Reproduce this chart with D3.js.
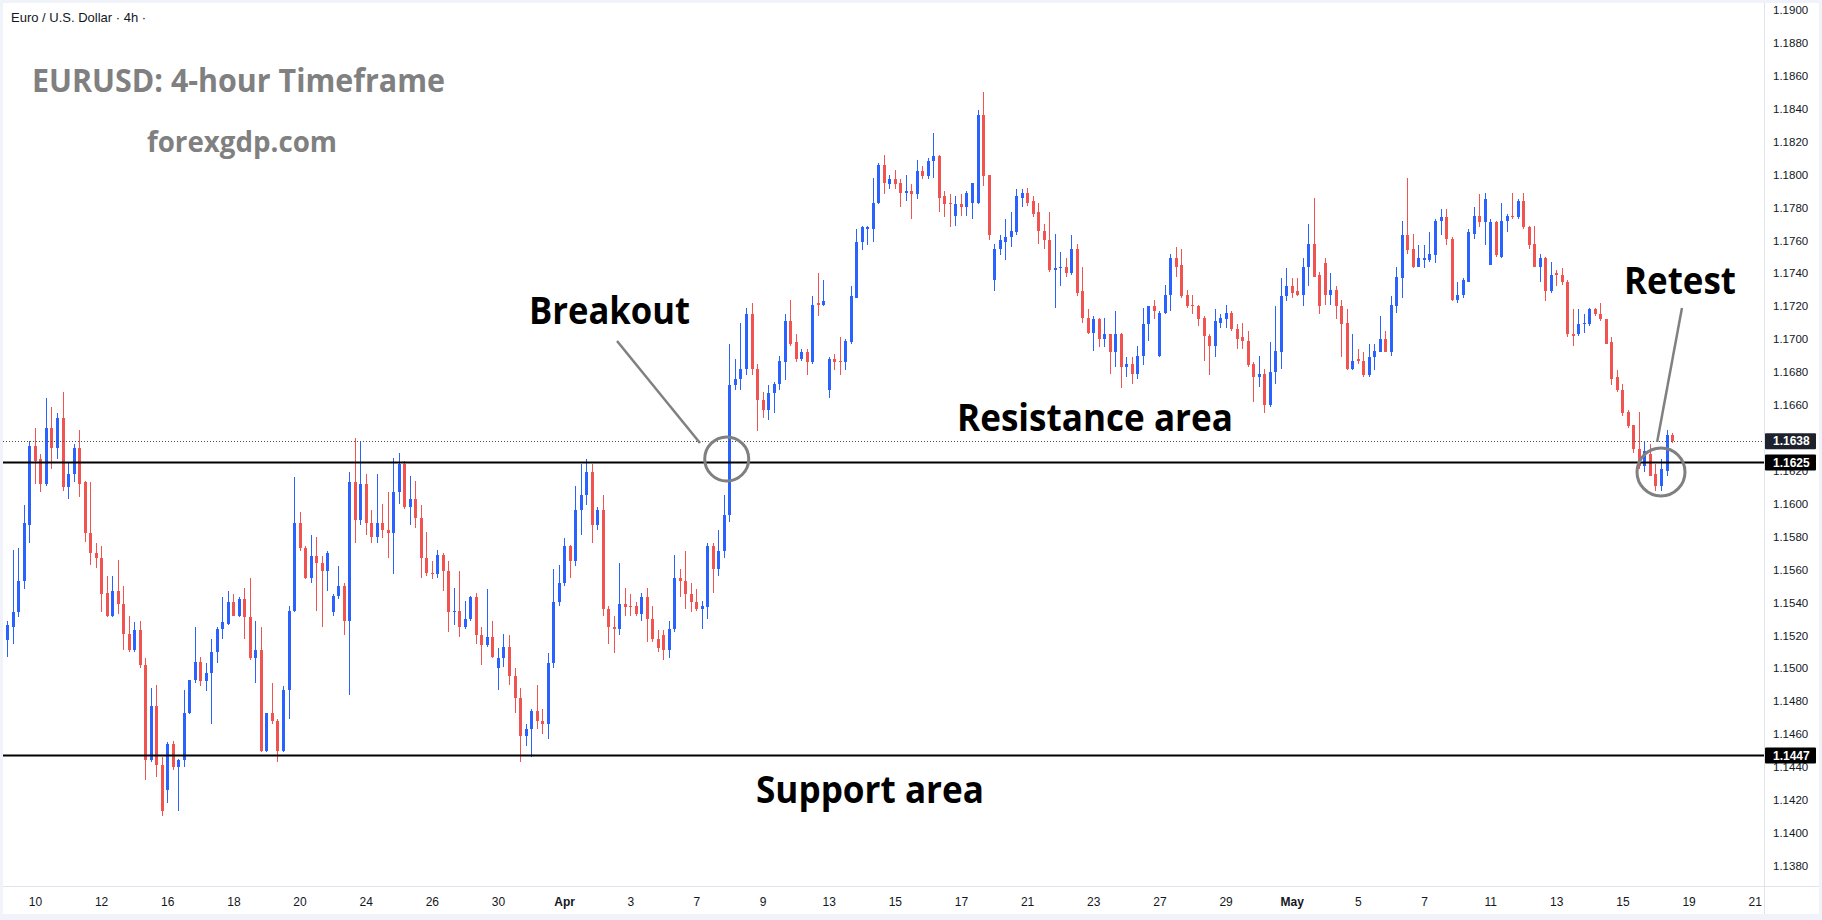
<!DOCTYPE html>
<html>
<head>
<meta charset="utf-8">
<script src="https://cdn.jsdelivr.net/npm/d3@7"></script>
<style>
  html, body { margin: 0; padding: 0; background: #f0f3fa; }
  svg { display: block; }
</style>
</head>
<body>
<div id="chart"></div>
<script>
// EURUSD 4h candles (index 0 = first visible bar)
const opens = [
1.1517,1.1525,1.1534,1.1553,1.1587,1.1635,1.1627,1.1612,1.1646,1.1634,1.1652,1.1610,1.1618,1.1634,1.1613,1.1582,1.1570,1.1567,1.1546,1.1532,
1.1547,1.1539,1.1521,1.1511,1.1523,1.1502,1.1444,1.1477,1.1441,1.1426,1.1454,1.1440,1.1444,1.1473,1.1493,1.1504,1.1492,1.1497,1.1510,1.1524,
1.1527,1.1540,1.1532,1.1542,1.1531,1.1506,1.1511,1.1450,1.1473,1.1468,1.1450,1.1487,1.1535,1.1588,1.1573,1.1555,1.1568,1.1564,1.1559,1.1534,
1.1544,1.1550,1.1529,1.1613,1.1590,1.1612,1.1588,1.1580,1.1588,1.1584,1.1582,1.1607,1.1624,1.1598,1.1603,1.1591,1.1567,1.1558,1.1557,1.1569,
1.1559,1.1534,1.1535,1.1525,1.1530,1.1543,1.1520,1.1514,1.1519,1.1500,1.1506,1.1513,1.1495,1.1482,1.1459,1.1463,1.1474,1.1468,1.1466,1.1503,
1.1540,1.1552,1.1574,1.1565,1.1596,1.1605,1.1619,1.1587,1.1596,1.1536,1.1525,1.1524,1.1539,1.1538,1.1538,1.1533,1.1543,1.1530,1.1518,1.1520,
1.1511,1.1524,1.1555,1.1553,1.1545,1.1540,1.1536,1.1537,1.1574,1.1560,1.1571,1.1593,1.1672,1.1676,1.1682,1.1715,1.1682,1.1663,1.1657,1.1667,
1.1673,1.1686,1.1711,1.1698,1.1688,1.1692,1.1686,1.1722,1.1721,1.1669,1.1688,1.1687,1.1686,1.1698,1.1725,1.1759,1.1767,1.1767,1.1783,1.1806,
1.1794,1.1797,1.1795,1.1789,1.1790,1.1788,1.1802,1.1799,1.1808,1.1811,1.1787,1.1783,1.1775,1.1782,1.1780,1.1783,1.1783,1.1836,1.1800,1.1736,
1.1755,1.1759,1.1762,1.1765,1.1786,1.1789,1.1784,1.1777,1.1766,1.1760,1.1742,1.1743,1.1744,1.1740,1.1755,1.1729,1.1713,1.1704,1.1712,1.1700,
1.1703,1.1692,1.1703,1.1683,1.1685,1.1679,1.1690,1.1709,1.1720,1.1690,1.1716,1.1727,1.1749,1.1745,1.1727,1.1721,1.1720,1.1713,1.1702,1.1696,
1.1710,1.1712,1.1716,1.1706,1.1701,1.1699,1.1685,1.1677,1.1679,1.1660,1.1680,1.1692,1.1726,1.1732,1.1729,1.1727,1.1744,1.1758,1.1739,1.1746,
1.1727,1.1730,1.1720,1.1710,1.1682,1.1688,1.1687,1.1678,1.1689,1.1692,1.1700,1.1692,1.1720,1.1737,1.1763,1.1755,1.1744,1.1748,1.1748,1.1751,
1.1772,1.1774,1.1761,1.1724,1.1727,1.1735,1.1764,1.1775,1.1771,1.1745,1.1771,1.1750,1.1772,1.1775,1.1774,1.1784,1.1768,1.1758,1.1744,1.1749,
1.1729,1.1740,1.1739,1.1735,1.1703,1.1703,1.1709,1.1709,1.1718,1.1715,1.1712,1.1698,1.1677,1.1669,1.1656,1.1648,1.1633,1.1623,1.1630,1.1618,
1.1611,1.1620,1.1642
];
const highs = [
1.1529,1.1572,1.1573,1.1599,1.1638,1.1646,1.1630,1.1664,1.1659,1.1655,1.1668,1.1625,1.1636,1.1645,1.1614,1.1613,1.1576,1.1574,1.1556,1.1556,
1.1566,1.1550,1.1532,1.1528,1.1529,1.1506,1.1488,1.1490,1.1446,1.1455,1.1456,1.1445,1.1487,1.1493,1.1525,1.1507,1.1503,1.1518,1.1525,1.1543,
1.1547,1.1545,1.1543,1.1549,1.1555,1.1529,1.1525,1.1473,1.1491,1.1469,1.1489,1.1538,1.1616,1.1595,1.1574,1.1581,1.1580,1.1568,1.1571,1.1545,
1.1562,1.1552,1.1619,1.1640,1.1638,1.1618,1.1596,1.1618,1.1600,1.1607,1.1628,1.1631,1.1626,1.1617,1.1614,1.1599,1.1583,1.1565,1.1572,1.1570,
1.1565,1.1549,1.1559,1.1541,1.1544,1.1546,1.1525,1.1548,1.1529,1.1512,1.1521,1.1520,1.1500,1.1488,1.1466,1.1475,1.1490,1.1475,1.1509,1.1560,
1.1563,1.1579,1.1575,1.1611,1.1624,1.1627,1.1624,1.1598,1.1605,1.1538,1.1532,1.1564,1.1549,1.1545,1.1540,1.1546,1.1549,1.1538,1.1523,1.1523,
1.1529,1.1569,1.1560,1.1571,1.1552,1.1548,1.1541,1.1576,1.1576,1.1584,1.1605,1.1697,1.1688,1.1710,1.1719,1.1722,1.1685,1.1668,1.1672,1.1674,
1.1690,1.1715,1.1724,1.1703,1.1694,1.1694,1.1726,1.1740,1.1736,1.1689,1.1691,1.1701,1.1700,1.1732,1.1767,1.1769,1.1769,1.1798,1.1807,1.1812,
1.1800,1.1803,1.1797,1.1800,1.1794,1.1809,1.1805,1.1810,1.1825,1.1812,1.1790,1.1788,1.1787,1.1788,1.1790,1.1795,1.1839,1.1850,1.1800,1.1758,
1.1763,1.1773,1.1777,1.1791,1.1791,1.1792,1.1787,1.1783,1.1770,1.1777,1.1764,1.1753,1.1749,1.1763,1.1758,1.1744,1.1718,1.1714,1.1713,1.1713,
1.1703,1.1717,1.1704,1.1689,1.1689,1.1696,1.1719,1.1720,1.1724,1.1717,1.1733,1.1752,1.1756,1.1755,1.1730,1.1727,1.1721,1.1714,1.1703,1.1718,
1.1715,1.1721,1.1717,1.1709,1.1710,1.1705,1.1686,1.1690,1.1682,1.1698,1.1720,1.1737,1.1743,1.1737,1.1737,1.1749,1.1770,1.1786,1.1741,1.1749,
1.1740,1.1732,1.1724,1.1718,1.1703,1.1694,1.1692,1.1697,1.1697,1.1714,1.1705,1.1726,1.1744,1.1772,1.1798,1.1764,1.1757,1.1757,1.1765,1.1773,
1.1779,1.1779,1.1762,1.1735,1.1737,1.1767,1.1780,1.1788,1.1789,1.1773,1.1772,1.1783,1.1776,1.1789,1.1785,1.1789,1.1769,1.1769,1.1752,1.1750,
1.1747,1.1742,1.1743,1.1736,1.1718,1.1718,1.1715,1.1719,1.1719,1.1722,1.1712,1.1701,1.1681,1.1673,1.1657,1.1648,1.1656,1.1638,1.1636,1.1624,
1.1627,1.1645,1.1643
];
const lows = [
1.1507,1.1515,1.1531,1.1548,1.1576,1.1612,1.1607,1.1611,1.1621,1.1627,1.1608,1.1603,1.1613,1.1604,1.1577,1.1563,1.1561,1.1534,1.1531,1.1531,
1.1533,1.1511,1.1510,1.1510,1.1500,1.1432,1.1443,1.1434,1.1410,1.1418,1.1438,1.1413,1.1440,1.1472,1.1491,1.1489,1.1486,1.1466,1.1503,1.1518,
1.1526,1.1532,1.1531,1.1518,1.1505,1.1491,1.1449,1.1449,1.1466,1.1443,1.1449,1.1469,1.1534,1.1571,1.1554,1.1552,1.1535,1.1525,1.1547,1.1532,
1.1542,1.1520,1.1484,1.1576,1.1587,1.1581,1.1576,1.1576,1.1579,1.1567,1.1557,1.1600,1.1597,1.1587,1.1585,1.1555,1.1556,1.1554,1.1555,1.1547,
1.1522,1.1526,1.1519,1.1524,1.1529,1.1515,1.1502,1.1513,1.1506,1.1487,1.1501,1.1490,1.1473,1.1443,1.1453,1.1446,1.1463,1.1460,1.1457,1.1500,
1.1538,1.1550,1.1555,1.1562,1.1581,1.1599,1.1576,1.1584,1.1532,1.1515,1.1509,1.1520,1.1532,1.1532,1.1532,1.1529,1.1516,1.1516,1.1510,1.1505,
1.1506,1.1522,1.1543,1.1536,1.1534,1.1535,1.1524,1.1530,1.1546,1.1556,1.1567,1.1589,1.1669,1.1669,1.1678,1.1678,1.1644,1.1652,1.1651,1.1655,
1.1669,1.1675,1.1696,1.1686,1.1687,1.1678,1.1685,1.1714,1.1720,1.1664,1.1681,1.1678,1.1681,1.1697,1.1725,1.1754,1.1757,1.1759,1.1782,1.1788,
1.1791,1.1791,1.1780,1.1784,1.1773,1.1785,1.1797,1.1797,1.1798,1.1777,1.1774,1.1768,1.1769,1.1775,1.1775,1.1773,1.1782,1.1793,1.1760,1.1729,
1.1751,1.1748,1.1756,1.1763,1.1780,1.1781,1.1774,1.1758,1.1755,1.1741,1.1719,1.1732,1.1738,1.1739,1.1726,1.1710,1.1703,1.1693,1.1695,1.1695,
1.1679,1.1683,1.1670,1.1677,1.1673,1.1676,1.1684,1.1699,1.1712,1.1689,1.1715,1.1717,1.1738,1.1725,1.1719,1.1715,1.1708,1.1687,1.1678,1.1689,
1.1707,1.1707,1.1705,1.1694,1.1694,1.1683,1.1662,1.1671,1.1655,1.1659,1.1673,1.1682,1.1723,1.1725,1.1726,1.1720,1.1732,1.1738,1.1715,1.1721,
1.1721,1.1712,1.1689,1.1681,1.1681,1.1685,1.1677,1.1677,1.1681,1.1692,1.1692,1.1690,1.1716,1.1725,1.1752,1.1743,1.1744,1.1743,1.1747,1.1746,
1.1763,1.1757,1.1723,1.1722,1.1725,1.1735,1.1761,1.1768,1.1757,1.1745,1.1750,1.1749,1.1765,1.1773,1.1773,1.1767,1.1755,1.1744,1.1735,1.1723,
1.1728,1.1732,1.1733,1.1701,1.1696,1.1702,1.1704,1.1708,1.1714,1.1711,1.1697,1.1672,1.1668,1.1653,1.1646,1.1631,1.1621,1.1619,1.1617,1.1608,
1.1608,1.1617,1.1637
];
const closes = [
1.1526,1.1534,1.1553,1.1588,1.1635,1.1626,1.1612,1.1646,1.1634,1.1652,1.1610,1.1618,1.1634,1.1612,1.1582,1.1570,1.1567,1.1545,1.1532,1.1547,
1.1539,1.1521,1.1511,1.1523,1.1502,1.1444,1.1477,1.1441,1.1413,1.1454,1.1440,1.1444,1.1473,1.1493,1.1504,1.1492,1.1497,1.1510,1.1524,1.1528,
1.1540,1.1532,1.1542,1.1531,1.1506,1.1511,1.1450,1.1473,1.1468,1.1450,1.1487,1.1535,1.1588,1.1573,1.1555,1.1568,1.1564,1.1559,1.1570,1.1544,
1.1550,1.1529,1.1613,1.1590,1.1612,1.1588,1.1580,1.1588,1.1584,1.1582,1.1607,1.1624,1.1598,1.1603,1.1591,1.1567,1.1558,1.1557,1.1569,1.1559,
1.1534,1.1535,1.1525,1.1530,1.1543,1.1520,1.1514,1.1519,1.1507,1.1506,1.1513,1.1495,1.1482,1.1459,1.1463,1.1474,1.1468,1.1466,1.1503,1.1540,
1.1552,1.1574,1.1565,1.1596,1.1605,1.1619,1.1587,1.1596,1.1536,1.1525,1.1524,1.1539,1.1537,1.1537,1.1533,1.1543,1.1530,1.1518,1.1512,1.1511,
1.1524,1.1555,1.1553,1.1545,1.1540,1.1536,1.1538,1.1574,1.1560,1.1571,1.1593,1.1672,1.1676,1.1682,1.1715,1.1682,1.1663,1.1657,1.1667,1.1673,
1.1687,1.1711,1.1697,1.1688,1.1692,1.1686,1.1721,1.1721,1.1723,1.1688,1.1686,1.1686,1.1699,1.1726,1.1759,1.1768,1.1768,1.1783,1.1806,1.1795,
1.1797,1.1794,1.1789,1.1790,1.1788,1.1802,1.1799,1.1808,1.1811,1.1786,1.1782,1.1782,1.1782,1.1780,1.1789,1.1795,1.1836,1.1799,1.1763,1.1755,
1.1760,1.1762,1.1766,1.1787,1.1789,1.1783,1.1776,1.1766,1.1760,1.1742,1.1743,1.1744,1.1740,1.1755,1.1728,1.1713,1.1704,1.1712,1.1700,1.1703,
1.1692,1.1703,1.1683,1.1685,1.1679,1.1690,1.1709,1.1720,1.1717,1.1716,1.1727,1.1749,1.1744,1.1726,1.1720,1.1720,1.1712,1.1702,1.1696,1.1711,
1.1713,1.1716,1.1706,1.1700,1.1699,1.1684,1.1677,1.1679,1.1660,1.1680,1.1693,1.1726,1.1732,1.1728,1.1727,1.1744,1.1758,1.1738,1.1720,1.1727,
1.1730,1.1720,1.1709,1.1682,1.1687,1.1687,1.1678,1.1689,1.1693,1.1700,1.1692,1.1721,1.1738,1.1763,1.1754,1.1744,1.1749,1.1749,1.1752,1.1772,
1.1774,1.1761,1.1724,1.1727,1.1736,1.1765,1.1775,1.1771,1.1785,1.1771,1.1751,1.1772,1.1775,1.1774,1.1784,1.1768,1.1757,1.1744,1.1749,1.1729,
1.1739,1.1739,1.1735,1.1703,1.1702,1.1709,1.1710,1.1718,1.1715,1.1712,1.1697,1.1676,1.1669,1.1655,1.1647,1.1633,1.1623,1.1632,1.1617,1.1611,
1.1621,1.1642,1.1638
];

// time axis: a label every 12 bars, first one on bar 5
const timeLabels = ["10","12","16","18","20","24","26","30","Apr","3","7","9","13","15","17","21","23","27","29","May","5","7","11","13","15","19","21"];
const timeLabelBars = timeLabels.map((d, k) => 5 + 12 * k);

const lastPrice = 1.1638;
const resistance = 1.1625;
const support = 1.1447;
// 1.1640 sits fully under the last-price tag, so it is left out
const priceTicks = d3.range(1.1380, 1.19001, 0.002).filter(p => Math.abs(p - 1.164) > 1e-6);

const W = 1822, H = 920;
const plotL = 3, plotR = 1764, plotT = 3, plotB = 886;
const upColor = "#2962ff", downColor = "#f05350";

const x = d3.scaleLinear().domain([0, 302]).range([7.4, 7.4 + 302 * 5.512]);
const y = d3.scaleLinear().domain([1.138, 1.19]).range([865.7, 10]);

const svg = d3.select("#chart").append("svg")
  .attr("width", W).attr("height", H);

// frame + white panel
svg.append("rect").attr("width", W).attr("height", H).attr("fill", "#f0f3fa");
svg.append("rect").attr("x", 3).attr("y", 3).attr("width", W - 6).attr("height", 911).attr("fill", "#fff");

svg.append("defs").append("clipPath").attr("id", "plot")
  .append("rect").attr("x", plotL).attr("y", plotT)
  .attr("width", plotR - plotL).attr("height", plotB - plotT);

const plot = svg.append("g").attr("clip-path", "url(#plot)");

// candles
const candles = opens.map((o, i) => ({i, o, h: highs[i], l: lows[i], c: closes[i]}));
const cg = plot.append("g").attr("shape-rendering", "crispEdges");
cg.selectAll("rect.wick").data(candles).join("rect")
  .attr("class", "wick")
  .attr("x", d => Math.round(x(d.i)))
  .attr("width", 1)
  .attr("y", d => Math.round(y(d.h)))
  .attr("height", d => Math.max(1, Math.round(y(d.l)) - Math.round(y(d.h))))
  .attr("fill", d => d.c >= d.o ? upColor : downColor);
cg.selectAll("rect.body").data(candles).join("rect")
  .attr("class", "body")
  .attr("x", d => Math.round(x(d.i)) - 1)
  .attr("width", 3)
  .attr("y", d => Math.round(y(Math.max(d.o, d.c))))
  .attr("height", d => Math.max(1, Math.round(y(Math.min(d.o, d.c))) - Math.round(y(Math.max(d.o, d.c)))))
  .attr("fill", d => d.c >= d.o ? upColor : downColor);

// last price dotted line
plot.append("line")
  .attr("x1", plotL).attr("x2", plotR)
  .attr("y1", Math.round(y(lastPrice)) + 0.5).attr("y2", Math.round(y(lastPrice)) + 0.5)
  .attr("stroke", "#4a4a4a").attr("stroke-width", 1).attr("stroke-dasharray", "1 2");

// support / resistance
[resistance, support].forEach(p => {
  plot.append("line")
    .attr("x1", plotL).attr("x2", plotR)
    .attr("y1", y(p)).attr("y2", y(p))
    .attr("stroke", "#000").attr("stroke-width", 2);
});

// axes frame
svg.append("line").attr("x1", plotR + 0.5).attr("x2", plotR + 0.5).attr("y1", 3).attr("y2", 914)
  .attr("stroke", "#e0e3eb");
svg.append("line").attr("x1", 3).attr("x2", W - 3).attr("y1", plotB + 0.5).attr("y2", plotB + 0.5)
  .attr("stroke", "#e0e3eb");

// price axis
const yAxis = d3.axisRight(y).tickValues(priceTicks).tickFormat(d3.format(".4f")).tickSize(0).tickPadding(0);
const ya = svg.append("g").attr("transform", `translate(${plotR + 9},0)`).call(yAxis);
ya.select(".domain").remove();
ya.selectAll("text")
  .attr("font-family", "Liberation Sans, Arial, sans-serif")
  .attr("font-size", 11.5).attr("fill", "#131722");

// time axis
const xAxis = d3.axisBottom(x).tickValues(timeLabelBars)
  .tickFormat((d, k) => timeLabels[k]).tickSize(0).tickPadding(0);
const xa = svg.append("g").attr("transform", `translate(0,${plotB + 11})`).call(xAxis);
xa.select(".domain").remove();
xa.selectAll("text")
  .attr("font-family", "Liberation Sans, Arial, sans-serif")
  .attr("font-size", 12).attr("fill", "#131722")
  .attr("font-weight", (d, k) => /[A-Za-z]/.test(timeLabels[k]) ? 700 : 400);

// price tags on the axis
function tag(p, bg) {
  const g = svg.append("g");
  const cy = y(p);
  g.append("rect").attr("x", plotR + 1).attr("y", cy - 8).attr("width", 51).attr("height", 16)
    .attr("fill", bg).attr("rx", 1);
  g.append("text").attr("x", plotR + 9).attr("y", cy).attr("dy", "0.35em")
    .attr("font-family", "Liberation Sans, Arial, sans-serif").attr("font-size", 12)
    .attr("font-weight", 700).attr("fill", "#fff").text(d3.format(".4f")(p));
}
tag(lastPrice, "#1e222d");
tag(resistance, "#000");
tag(support, "#000");

// header
svg.append("text").attr("x", 11).attr("y", 22)
  .attr("font-family", "Liberation Sans, Arial, sans-serif").attr("font-size", 13)
  .attr("fill", "#131722").text("Euro / U.S. Dollar · 4h ·");

// titles
const ann = svg.append("g").attr("font-family", "'Open Sans', 'Noto Sans', sans-serif").attr("font-weight", 700);
ann.append("text").attr("x", 32).attr("y", 92).attr("font-size", 33).attr("fill", "#808080")
  .attr("textLength", 413).attr("lengthAdjust", "spacingAndGlyphs").text("EURUSD: 4-hour Timeframe");
ann.append("text").attr("x", 147).attr("y", 152).attr("font-size", 28).attr("fill", "#808080")
  .attr("textLength", 190).attr("lengthAdjust", "spacingAndGlyphs").text("forexgdp.com");

const labels = [
  {t: "Breakout", x: 529, y: 324, w: 161},
  {t: "Resistance area", x: 957, y: 431, w: 276},
  {t: "Support area", x: 756, y: 803, w: 228},
  {t: "Retest", x: 1624, y: 294, w: 112}
];
labels.forEach(d => {
  ann.append("text").attr("x", d.x).attr("y", d.y).attr("font-size", 37).attr("fill", "#000")
    .attr("textLength", d.w).attr("lengthAdjust", "spacingAndGlyphs").text(d.t);
});

// pointer lines and circles (bar index, price)
const pointers = [
  {a: [110.6, 1.16989], b: [125.65, 1.16369]},
  {a: [303.8, 1.17189], b: [299.3, 1.16375]}
];
pointers.forEach(p => {
  svg.append("line")
    .attr("x1", x(p.a[0])).attr("y1", y(p.a[1]))
    .attr("x2", x(p.b[0])).attr("y2", y(p.b[1]))
    .attr("stroke", "#808080").attr("stroke-width", 2.5);
});
const rings = [
  {i: 130.5, p: 1.16272, r: 22},
  {i: 300.0, p: 1.16193, r: 24}
];
rings.forEach(c => {
  svg.append("circle").attr("cx", x(c.i)).attr("cy", y(c.p)).attr("r", c.r)
    .attr("fill", "none").attr("stroke", "#808080").attr("stroke-width", 3);
});
</script>
</body>
</html>
